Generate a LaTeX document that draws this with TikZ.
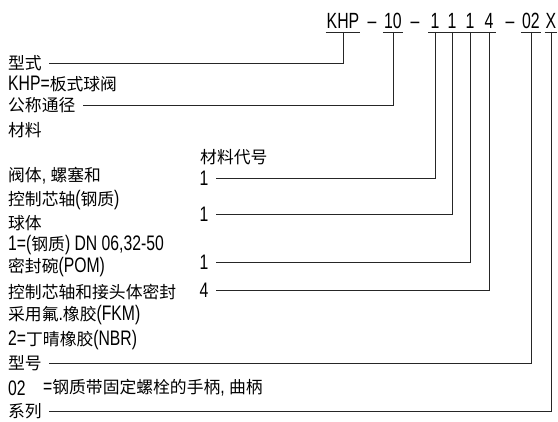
\documentclass[tikz,border=0pt]{standalone}
\usepackage{fontspec}
\setmainfont[FakeStretch=0.75]{Liberation Sans}
\newfontfamily\codefont[FakeStretch=0.72]{Liberation Sans}
\newfontfamily\zhf{Noto Sans CJK SC}
\newcommand\zh[1]{{\zhf\fontsize{16.8}{22}\selectfont #1}}
\begin{document}
\begin{tikzpicture}[x=1pt,y=-1pt,
  lbl/.style={anchor=west,inner sep=0pt,font=\fontsize{21}{24}\selectfont},
  num/.style={inner sep=0pt,font=\fontsize{21}{24}\selectfont},
  code/.style={anchor=base,inner ysep=0pt,inner xsep=1pt,font=\codefont\fontsize{22}{24}\selectfont},
  conn/.style={line width=0.9pt,black!85}]
\useasboundingbox (0,0) rectangle (558,422);
% code line
\node[code] (khp) at (343,29) {KHP};
\node[code] (m1) at (372,29) {–};
\node[code] (c10) at (393,29) {10};
\node[code] (m2) at (415,29) {–};
\node[code,inner xsep=2pt] (d1) at (435,29) {1};
\node[code] (d2) at (452,29) {1};
\node[code] (d3) at (470,29) {1};
\node[code,inner xsep=2pt] (d4) at (489,29) {4};
\node[code] (m3) at (510,29) {–};
\node[code] (c02) at (531,29) {02};
\node[code] (cx) at (551,29) {X};
% underlines
\draw[conn] ([yshift=-3pt]khp.base west) -- ([yshift=-3pt]khp.base east);
\draw[conn] ([yshift=-3pt]c10.base west) -- ([yshift=-3pt]c10.base east);
\draw[conn] ([yshift=-3pt]d1.base west) -- ([yshift=-3pt]d4.base east);
\draw[conn] ([yshift=-3pt]c02.base west) -- ([yshift=-3pt]c02.base east);
\draw[conn] ([yshift=-3pt]cx.base west) -- ([yshift=-3pt]cx.base east);
% left texts
\node[lbl] (t1) at (8,63) {\zh{型式}};
\node[lbl] (t2) at (8,84) {KHP=\zh{板式球阀}};
\node[lbl] (t3) at (8,105) {\zh{公称通径}};
\node[lbl] (t4) at (8,130) {\zh{材料}};
\node[lbl] (t5) at (200,157) {\zh{材料代号}};
\node[lbl] (t6) at (8,176) {\zh{阀体}, \zh{螺塞和}};
\node[lbl] (t7) at (8,200) {\zh{控制芯轴}(\zh{钢质})};
\node[lbl] (t8) at (8,223) {\zh{球体}};
\node[lbl] (t9) at (8,245) {1=(\zh{钢质}) DN 06,32-50};
\node[lbl] (t10) at (8,267) {\zh{密封碗}(POM)};
\node[lbl] (t11) at (8,292) {\zh{控制芯轴和接头体密封}};
\node[lbl] (t12) at (8,315) {\zh{采用氟}.\zh{橡胶}(FKM)};
\node[lbl] (t13) at (8,340) {2=\zh{丁晴橡胶}(NBR)};
\node[lbl] (t14) at (8,363) {\zh{型号}};
\node[lbl] (t15) at (8,388) {02};
\node[lbl] (t15b) at (43,388) {=\zh{钢质带固定螺栓的手柄}, \zh{曲柄}};
\node[lbl] (t16) at (8,411) {\zh{系列}};
% material codes
\node[num] (n1) at (204,178) {1};
\node[num] (n2) at (204,214) {1};
\node[num] (n3) at (204,262) {1};
\node[num] (n4) at (204,290) {4};
% connectors
\draw[conn] ([yshift=-3pt]khp.base) |- ([xshift=7pt]t1.east);
\draw[conn] ([yshift=-3pt]c10.base) |- ([xshift=7pt]t3.east);
\draw[conn] ([yshift=-3pt]d1.base) |- ([xshift=7pt]n1.east);
\draw[conn] ([yshift=-3pt]d2.base) |- ([xshift=7pt]n2.east);
\draw[conn] ([yshift=-3pt]d3.base) |- ([xshift=7pt]n3.east);
\draw[conn] ([yshift=-3pt]d4.base) |- ([xshift=7pt]n4.east);
\draw[conn] ([yshift=-3pt]c02.base) |- ([xshift=7pt]t14.east);
\draw[conn] ([yshift=-3pt]cx.base) |- ([xshift=7pt]t16.east);
\end{tikzpicture}
\end{document}
